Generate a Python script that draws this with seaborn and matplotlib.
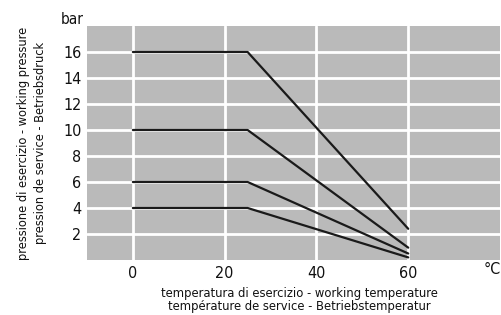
import pandas as pd
import matplotlib
matplotlib.use("Agg")
import matplotlib.pyplot as plt
import seaborn as sns

# derating curves: flat up to the knee, then linear drop to 60 °C
temperature = [0, 25, 60]
pn16 = [16, 16, 2.4]
pn10 = [10, 10, 0.95]
pn6 = [6, 6, 0.5]
pn4 = [4, 4, 0.2]

x_ticks = [0, 20, 40, 60]
y_ticks = [2, 4, 6, 8, 10, 12, 14, 16]

sns.set_style("dark", {"axes.facecolor": "#bababa", "grid.color": "white"})
plt.rcParams["font.family"] = ["DejaVu Sans"]
plt.rcParams["font.stretch"] = "condensed"

rows = []
for name, vals in [("16", pn16), ("10", pn10), ("6", pn6), ("4", pn4)]:
    for t, p in zip(temperature, vals):
        rows.append({"curve": name, "t": t, "p": p})
df = pd.DataFrame(rows)

fig = plt.figure(figsize=(5.02, 3.15), dpi=100)
ax = fig.add_axes([87 / 502, 55 / 315, 413 / 502, 234 / 315])

sns.lineplot(data=df, x="t", y="p", hue="curve", palette=["#1a1a1a"] * 4,
             linewidth=1.6, legend=False, ax=ax, sort=False)

ax.set_xlim(-10, 80)
ax.set_ylim(0, 18)
ax.set_xticks(x_ticks)
ax.set_yticks(y_ticks)
ax.grid(True, color="white", linewidth=2)
ax.set_axisbelow(True)
for s in ax.spines.values():
    s.set_visible(False)
ax.tick_params(length=0, labelsize=11.5, colors="#111111", pad=4)
ax.set_xlabel("")
ax.set_ylabel("")

fig.text(72 / 502, 1 - 19 / 315, "bar", fontsize=11, ha="center", va="center", color="#111111")
fig.text(501 / 502, 1 - 270 / 315, "°C", fontsize=11.5, ha="right", va="center", color="#111111")
fig.text(299 / 502, 1 - 300 / 315,
         "temperatura di esercizio - working temperature\ntempérature de service - Betriebstemperatur",
         fontsize=9.3, ha="center", va="center", linespacing=1.0, color="#111111")
fig.text(32 / 502, 1 - 143 / 315,
         "pressione di esercizio - working pressure\npression de service - Betriebsdruck",
         fontsize=9.2, ha="center", va="center", rotation=90, linespacing=1.35, color="#111111")

fig.savefig("out.png", dpi=100, facecolor="white")
